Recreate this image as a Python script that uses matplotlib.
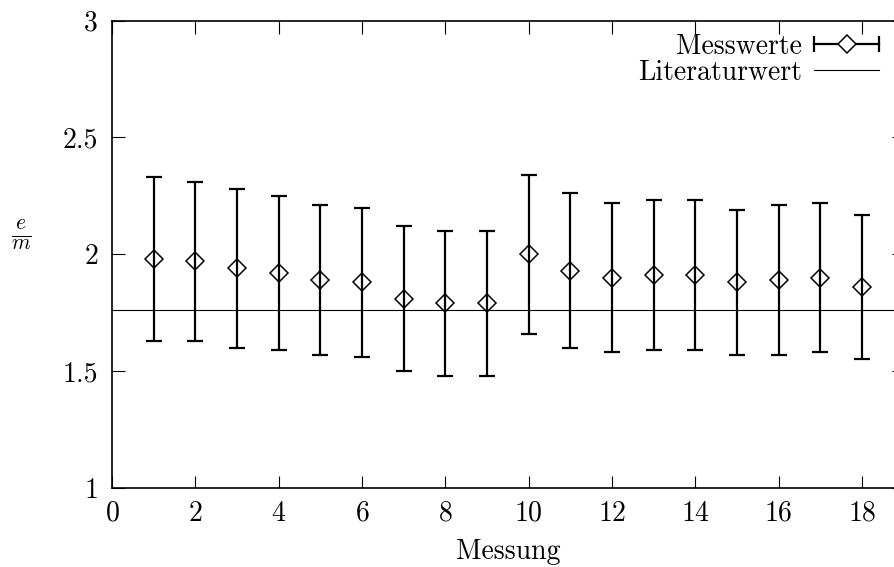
import matplotlib
matplotlib.use("Agg")
import matplotlib.pyplot as plt
from matplotlib.lines import Line2D
from matplotlib.legend_handler import HandlerLine2D
from matplotlib.ticker import FuncFormatter, MultipleLocator

# Messreihe: spezifische Ladung e/m (in 10^11 C/kg)
messung = [1, 2, 3, 4, 5, 6, 7, 8, 9, 10, 11, 12, 13, 14, 15, 16, 17, 18]
e_m = [1.98, 1.97, 1.94, 1.92, 1.89, 1.88, 1.81, 1.79, 1.79,
       2.00, 1.93, 1.90, 1.91, 1.91, 1.88, 1.89, 1.90, 1.86]
fehler = [0.35, 0.34, 0.34, 0.33, 0.32, 0.32, 0.31, 0.31, 0.31,
          0.34, 0.33, 0.32, 0.32, 0.32, 0.31, 0.32, 0.32, 0.31]
literaturwert = 1.759

plt.rcParams["font.family"] = ["cmr10"]
plt.rcParams["mathtext.fontset"] = "cm"
plt.rcParams["axes.formatter.use_mathtext"] = True
plt.rcParams["font.size"] = 20

fig = plt.figure(figsize=(8.94, 5.67), dpi=100)
W, H = 894, 567
ax = fig.add_axes([112 / W, 1 - 487.7 / H, 791.7 / W, 467 / H])

ax.errorbar(messung, e_m, yerr=fehler, fmt="none", ecolor="black",
            elinewidth=1.6, capsize=5.5, capthick=1.6, zorder=2)
ax.plot(messung, e_m, linestyle="none", marker="D", markersize=9.5,
        markerfacecolor="none", markeredgecolor="black",
        markeredgewidth=1.1, zorder=3)
ax.axhline(literaturwert, color="black", linewidth=0.8, zorder=1)

ax.set_xlim(0, 19)
ax.set_ylim(1, 3)
ax.xaxis.set_major_locator(MultipleLocator(2))
ax.yaxis.set_major_locator(MultipleLocator(0.5))
ax.yaxis.set_major_formatter(FuncFormatter(lambda v, p: "%g" % v))
ax.tick_params(direction="in", length=9, width=0.8, top=True, right=True,
               labelsize=20)
ax.tick_params(axis="x", pad=9)
ax.tick_params(axis="y", pad=10)
for s in ax.spines.values():
    s.set_linewidth(1.2)

ax.set_xlabel("Messung", labelpad=8.5)
ax.set_ylabel(r"$\frac{e}{m}$", rotation=0, fontsize=22, labelpad=0)
ax.yaxis.set_label_coords(-91 / 791.7, (487.7 - 252) / 467)

# Legende: Fehlerbalken horizontal mit Endstrichen und Raute
balken = Line2D([], [], color="black", linewidth=1.6, marker="|",
                markersize=11, markeredgewidth=1.6)
raute = Line2D([], [], linestyle="none", marker="D", markersize=9.5,
               markerfacecolor="white", markeredgecolor="black",
               markeredgewidth=1.1)
lit = Line2D([], [], color="black", linewidth=0.8)
leg = ax.legend([(balken, raute), lit], ["Messwerte", "Literaturwert"],
                loc="upper right", bbox_to_anchor=(879.3 / W, 1 - 33.5 / H),
                bbox_transform=fig.transFigure, frameon=False,
                markerfirst=False, borderpad=0, borderaxespad=0,
                handlelength=2.34, handletextpad=0.45, labelspacing=0.0,
                handler_map={balken: HandlerLine2D(numpoints=2, marker_pad=0),
                             raute: HandlerLine2D(numpoints=1)})
for t in leg.get_texts():
    t.set_ha("right")

fig.savefig("out.png", dpi=100)
